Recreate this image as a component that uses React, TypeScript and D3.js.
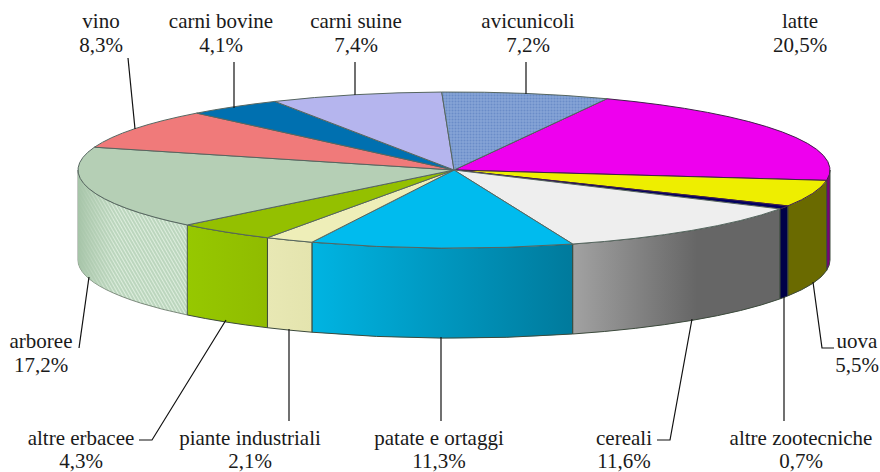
import React from 'react';
import * as d3 from 'd3';

const categories = ['latte', 'uova', 'altre zootecniche', 'cereali', 'patate e ortaggi', 'piante industriali', 'altre erbacee', 'arboree', 'vino', 'carni bovine', 'carni suine', 'avicunicoli'];
const shares = [20.5, 5.5, 0.7, 11.6, 11.3, 2.1, 4.3, 17.2, 8.3, 4.1, 7.4, 7.2];
const topColors = ['#ee00ee', '#eeee00', '#000060', '#eeeeee', '#00bbee', '#eeeeb8', '#94c000', '#b5cfb5', '#f07a7a', '#0070b0', '#b5b5ee', 'url(#gridTop)'];
const sideFrom = ['#7a007a', '#6a6a00', '#000048', '#a2a2a2', '#00b4e2', '#e8e8b4', '#96c800', 'url(#stripeSide)', '#000', '#000', '#000', '#000'];
const sideTo = ['#7a007a', '#6a6a00', '#000048', '#666666', '#007a9c', '#e4e4ae', '#90bc00', 'url(#stripeSide)', '#000', '#000', '#000', '#000'];

// label centre x, first baseline y, gap to the value line
const labelX = [800, 857, 801, 624, 439, 250, 81, 41, 101, 221, 356, 528];
const labelY = [28, 348, 444.5, 444.5, 444.5, 444.5, 444.5, 348, 28, 28, 28, 28];
const labelGap = [24, 24, 23, 23, 23, 23, 23, 24, 24, 24, 24, 24];
const leaders = [
	null,
	[[813, 282], [822, 348], [834, 348]],
	[[784, 297], [784, 421]],
	[[692, 319], [670, 440], [657, 440]],
	[[441, 337], [441, 421]],
	[[289, 329], [289, 421]],
	[[226, 320], [152, 440], [139, 440]],
	[[89, 277], [79, 348]],
	[[128, 58], [135, 129]],
	[[234, 62], [234, 108]],
	[[355, 62], [355, 95]],
	[[526, 62], [526, 94]],
];

const cx = 454;
const cy = 170;
const rx = 376;
const ry = 78;
const depth = 90;
const rad = Math.PI / 180;

const pt = (a: number, dy = 0) => [cx + rx * Math.sin(a), cy - ry * Math.cos(a) + dy];
const arcTo = (a0: number, a1: number, dy = 0) => {
	const [x, y] = pt(a1, dy);
	const large = Math.abs(a1 - a0) > Math.PI ? 1 : 0;
	return `A${rx},${ry} 0 ${large} ${a1 > a0 ? 1 : 0} ${x},${y}`;
};

const arcs = d3.pie<number>().sort(null).startAngle(24 * rad).endAngle(384 * rad)(shares);
const line = d3.line();

export default function App() {
	const front0 = 90 * rad;
	const front1 = 270 * rad;
	return (
		<svg width={880} height={472} style={{ position: 'absolute', left: 0, top: 0 }} fontFamily="'Liberation Serif', serif" fontSize={21} fill="#1a1a1a">
			<defs>
				{categories.map((c, i) => (
					<linearGradient key={c} id={`side${i}`} x1="0" x2="1" y1="0" y2="0">
						<stop offset="0" stopColor={sideFrom[i]} />
						<stop offset={i === 3 ? 0.6 : 1} stopColor={sideTo[i]} />
					</linearGradient>
				))}
				<pattern id="stripeSide" width={3} height={3} patternUnits="userSpaceOnUse" patternTransform="rotate(-30)">
					<rect width={3} height={3} fill="#bcd6be" />
					<rect x={0} width={1} height={3} fill="#deeede" />
				</pattern>
				<linearGradient id="stripeFade" x1="0" x2="1" y1="0" y2="0">
					<stop offset="0" stopColor="#a6c4a8" stopOpacity={1} />
					<stop offset="0.35" stopColor="#b5cfb5" stopOpacity={0} />
				</linearGradient>
				<pattern id="gridTop" width={3} height={3} patternUnits="userSpaceOnUse">
					<rect width={3} height={3} fill="#6a8cc8" />
					<path d="M0,1H3M1,0V3" stroke="#92aedc" strokeWidth={0.8} />
				</pattern>
			</defs>

			{/* side wall, only the front half of the rim shows */}
			{arcs.map((d, i) => {
				const segs = [[d.startAngle, d.endAngle], [d.startAngle + 2 * Math.PI, d.endAngle + 2 * Math.PI], [d.startAngle - 2 * Math.PI, d.endAngle - 2 * Math.PI]];
				return segs.map(([s, e], k) => {
					const a0 = Math.max(s, front0);
					const a1 = Math.min(e, front1);
					if (a1 <= a0) return null;
					const [x0, y0] = pt(a0);
					const [x1, y1] = pt(a1, depth);
					const wall = `M${x0},${y0}${arcTo(a0, a1)}L${x1},${y1}${arcTo(a1, a0, depth)}Z`;
					const striped = categories[i] === 'arboree';
					return (
						<g key={`${i}-${k}`}>
							<path d={wall} fill={striped ? 'url(#stripeSide)' : `url(#side${i})`} stroke="#3c4a3c" strokeWidth={striped ? 0.6 : 1} />
							{striped && <path d={wall} fill="url(#stripeFade)" />}
						</g>
					);
				});
			})}

			{/* top face */}
			{arcs.map((d, i) => {
				const [x0, y0] = pt(d.startAngle);
				return (
					<path
						key={categories[i]}
						d={`M${cx},${cy}L${x0},${y0}${arcTo(d.startAngle, d.endAngle)}Z`}
						fill={topColors[i]}
						stroke={i < 3 ? '#40204a' : '#566660'}
						strokeWidth={1}
						strokeLinejoin="round"
					/>
				);
			})}

			{leaders.map((l, i) => l && (
				<path key={i} d={line(l as [number, number][]) as string} fill="none" stroke="#111" strokeWidth={1.2} />
			))}

			{categories.map((c, i) => (
				<text key={c} x={labelX[i]} y={labelY[i]} textAnchor="middle">
					<tspan x={labelX[i]}>{c}</tspan>
					<tspan x={labelX[i]} dy={labelGap[i]}>{d3.format('.1f')(shares[i]).replace('.', ',')}%</tspan>
				</text>
			))}
		</svg>
	);
}
